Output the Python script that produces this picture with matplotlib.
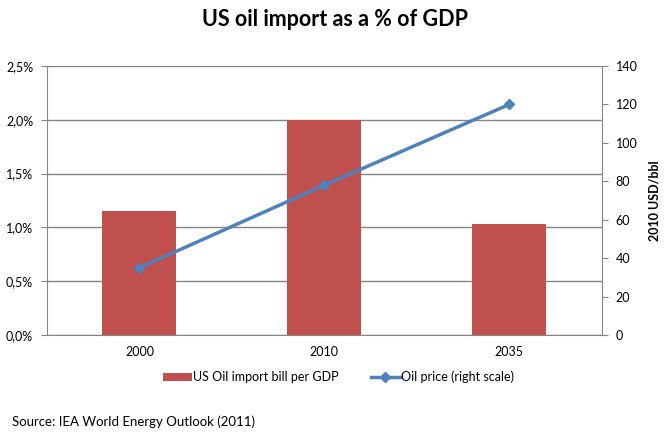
import matplotlib
matplotlib.use("Agg")
import matplotlib.pyplot as plt
import numpy as np

plt.rcParams['font.family'] = ['Lato', 'DejaVu Sans']

years = ["2000", "2010", "2035"]
import_share = [1.15, 2.00, 1.03]   # % of GDP
oil_price = [35, 78, 120]           # 2010 USD/bbl
left_ticks = [0.0, 0.5, 1.0, 1.5, 2.0, 2.5]
right_ticks = [0, 20, 40, 60, 80, 100, 120, 140]

grey = "#868686"
red = "#C0504D"
blue = "#4F81BD"

fig = plt.figure(figsize=(6.7, 4.42), dpi=100)
ax = fig.add_axes([0.0701, 0.242, 0.828, 0.6087])
x = np.arange(len(years))

ax.bar(x, import_share, width=0.4, color=red, label="US Oil import bill per GDP", zorder=3)
ax.set_xlim(-0.5, 2.5)
ax.set_ylim(0, 2.5)
ax.set_yticks(left_ticks)
ax.set_yticklabels([("%.1f%%" % v).replace(".", ",") for v in left_ticks])
ax.set_xticks(x)
ax.set_xticklabels(years)
ax.grid(axis="y", color=grey, linewidth=1, zorder=0)
for s in ["top", "right"]:
    ax.spines[s].set_visible(False)
ax.spines["left"].set_color(grey)
ax.spines["bottom"].set_color(grey)
ax.tick_params(axis="y", colors=grey, labelcolor="black", labelsize=9, length=4, pad=6)
ax.tick_params(axis="x", length=0, labelsize=9, pad=8)

ax2 = ax.twinx()
ax2.plot(x, oil_price, color=blue, linewidth=2.5, marker="D", markersize=5,
         label="Oil price (right scale)", zorder=4)
ax2.set_ylim(0, 140)
ax2.set_yticks(right_ticks)
for s in ["top", "left", "bottom"]:
    ax2.spines[s].set_visible(False)
ax2.spines["right"].set_color(grey)
ax2.tick_params(axis="y", colors=grey, labelcolor="black", labelsize=9, length=4, pad=6)
ax2.set_ylabel("2010 USD/bbl", fontsize=9, fontweight="bold", labelpad=8)

fig.text(0.5, 0.955, "US oil import as a % of GDP", ha="center", va="center",
         fontsize=15.5, fontweight="bold")

h1, l1 = ax.get_legend_handles_labels()
h2, l2 = ax2.get_legend_handles_labels()
fig.legend(h1 + h2, l1 + l2, loc="center", bbox_to_anchor=(0.505, 0.147), ncol=2,
           frameon=False, fontsize=9, handlelength=2.3, handletextpad=0.1,
           columnspacing=2.6)

fig.text(0.018, 0.045, "Source: IEA World Energy Outlook (2011)", fontsize=9.5,
         ha="left", va="center")

fig.savefig("out.png", dpi=100)
